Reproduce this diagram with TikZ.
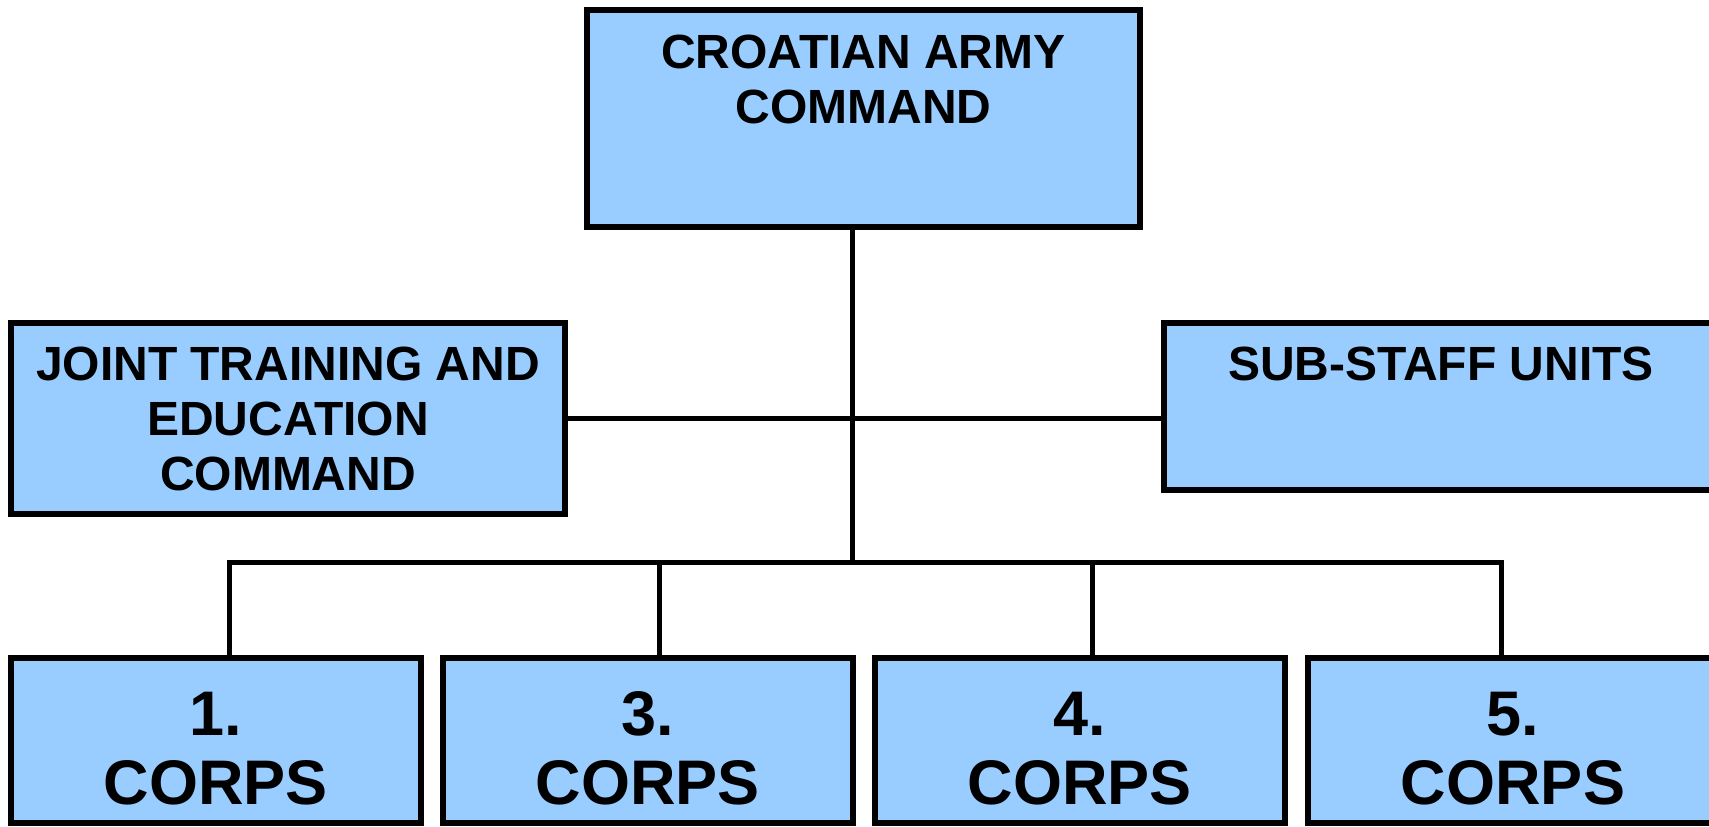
\documentclass[tikz,border=0pt]{standalone}
\usepackage{fontspec}
\setmainfont{Liberation Sans}
\definecolor{unitblue}{RGB}{153,204,255}
\newcommand{\unittext}[4]{\parbox[c][#2][t]{#1}{\centering\rule{0pt}{#3}#4}}

\begin{document}
\begin{tikzpicture}[x=1pt,y=-1pt,
	unit/.style={draw,line width=5.5pt,fill=unitblue,inner sep=0pt,font=\fontsize{48}{55}\selectfont\bfseries},
	corps/.style={unit,font=\fontsize{63}{69}\selectfont\bfseries},
	link/.style={line width=5pt,line join=miter}]
	\clip (0,0) rectangle (1709,827);
	\fill[white] (0,0) rectangle (1709,827);

	\node[unit] (cmd) at (863.5,118.5) {\unittext{553pt}{217pt}{58pt}{CROATIAN ARMY\\COMMAND}};
	\node[unit] (jtec) at (288,418.5) {\unittext{554pt}{191pt}{57pt}{JOINT TRAINING AND\\EDUCATION\\COMMAND}};
	\node[unit] (sub) at (1441,406.5) {\unittext{554pt}{167pt}{57pt}{SUB-STAFF UNITS}};

	\node[corps] (c1) at (216,740.5) {\unittext{410pt}{165pt}{77pt}{1.\\CORPS}};
	\node[corps] (c3) at (648,740.5) {\unittext{410pt}{165pt}{77pt}{3.\\CORPS}};
	\node[corps] (c4) at (1080,740.5) {\unittext{410pt}{165pt}{77pt}{4.\\CORPS}};
	\node[corps] (c5) at (1513,740.5) {\unittext{410pt}{165pt}{77pt}{5.\\CORPS}};

	\coordinate (trunk) at (852,562);
	\coordinate (b1) at (229,562); \coordinate (b3) at (659,562);
	\coordinate (b4) at (1092,562); \coordinate (b5) at (1501,562);

	\draw[link] (trunk |- cmd.south) -- (trunk);
	\draw[link] (jtec.east) -- (sub.west |- jtec.east);
	\draw[link] (b1 |- c1.north) -- (b1) -- (b5) -- (b5 |- c5.north);
	\draw[link] (b3) -- (b3 |- c3.north);
	\draw[link] (b4) -- (b4 |- c4.north);
\end{tikzpicture}
\end{document}
